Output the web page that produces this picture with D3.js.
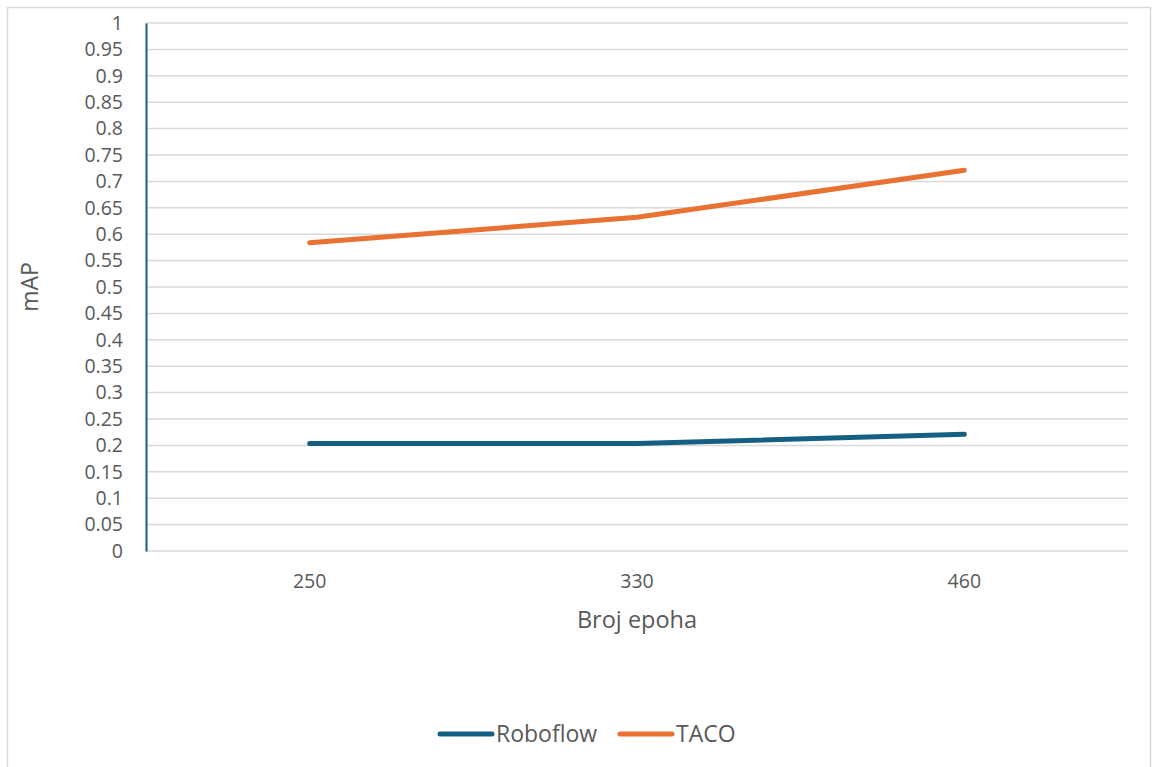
<!DOCTYPE html>
<html><head><meta charset="utf-8">
<script src="https://cdn.jsdelivr.net/npm/d3@7"></script>
<style>body{margin:0;background:#fff;} svg{display:block;font-family:"Open Sans",sans-serif;}</style>
</head><body>
<svg id="c" width="1153" height="767"></svg>
<script>
const categories = ["250", "330", "460"];
const seriesNames = ["Roboflow", "TACO"];
const roboflow = [0.2035, 0.2035, 0.221];
const taco = [0.584, 0.632, 0.721];
const yTicks = [0,0.05,0.1,0.15,0.2,0.25,0.3,0.35,0.4,0.45,0.5,0.55,0.6,0.65,0.7,0.75,0.8,0.85,0.9,0.95,1];
const colors = ["#156082", "#E97132"];

(function(){
const svg = d3.select("#c");
svg.append("rect").attr("x",7.5).attr("y",7.5).attr("width",1143).attr("height",800)
  .attr("fill","#fff").attr("stroke","#d9d9d9").attr("stroke-width",1.5);

const pl=146, pr=1128, pt=23, pb=551;
const x = d3.scaleBand().domain(categories).range([pl,pr]);
const y = d3.scaleLinear().domain([0,1]).range([pb,pt]);

svg.append("g").selectAll("line").data(yTicks).join("line")
  .attr("x1",pl).attr("x2",pr).attr("y1",d=>y(d)).attr("y2",d=>y(d))
  .attr("stroke","#d9d9d9").attr("stroke-width",1.5);

const yAxis = svg.append("g").attr("transform",`translate(${pl},0)`)
  .call(d3.axisLeft(y).tickValues(yTicks).tickSize(0).tickPadding(23).tickFormat(d=>String(+d.toFixed(2))));
yAxis.select(".domain").attr("stroke","#156082").attr("stroke-width",2);
yAxis.selectAll("text").attr("font-size",19.5).attr("fill","#595959").attr("font-family","Open Sans, sans-serif");

const xAxis = svg.append("g").attr("transform",`translate(0,${pb})`)
  .call(d3.axisBottom(x).tickSize(0).tickPadding(23));
xAxis.select(".domain").remove();
xAxis.selectAll("text").attr("font-size",19.5).attr("fill","#595959").attr("font-family","Open Sans, sans-serif");

svg.append("text").attr("x",(pl+pr)/2).attr("y",628).attr("text-anchor","middle")
  .attr("font-size",23.5).attr("fill","#595959").text("Broj epoha");
svg.append("text").attr("transform",`translate(38,${(pt+pb)/2}) rotate(-90)`).attr("text-anchor","middle")
  .attr("font-size",23).attr("fill","#595959").text("mAP");

const line = d3.line().x((d,i)=>x(categories[i])+x.bandwidth()/2).y(d=>y(d)).curve(d3.curveLinear);
[roboflow, taco].forEach((s,k)=>{
  svg.append("path").attr("d",line(s)).attr("fill","none").attr("stroke",colors[k])
    .attr("stroke-width",5).attr("stroke-linecap","round").attr("stroke-linejoin","round");
});

const legendX=[440,620];
seriesNames.forEach((n,k)=>{
  svg.append("line").attr("x1",legendX[k]).attr("x2",legendX[k]+52).attr("y1",734).attr("y2",734)
    .attr("stroke",colors[k]).attr("stroke-width",5).attr("stroke-linecap","round");
  svg.append("text").attr("x",legendX[k]+56).attr("y",742).attr("font-size",23).attr("fill","#595959").text(n);
});
})();
</script>
</body></html>
